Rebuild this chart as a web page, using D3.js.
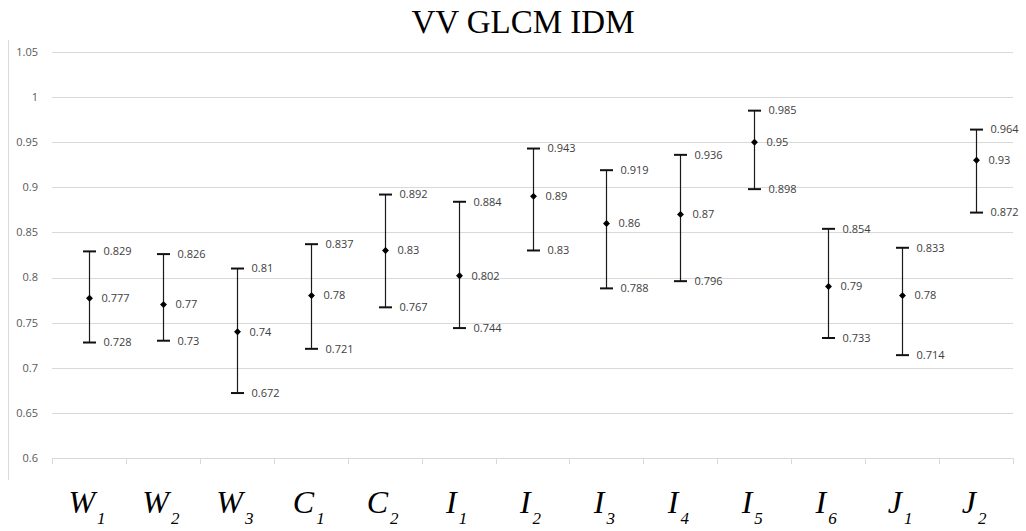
<!DOCTYPE html>
<html>
<head>
<meta charset="utf-8">
<script src="https://cdn.jsdelivr.net/npm/d3@7/dist/d3.min.js"></script>
<style>
  html, body { margin: 0; padding: 0; background: #fff; }
  svg { display: block; }
</style>
</head>
<body>
<svg id="chart" width="1026" height="531"></svg>
<script>
// ---- data ----
const title = "VV GLCM IDM";
const categories = ["W1","W2","W3","C1","C2","I1","I2","I3","I4","I5","I6","J1","J2"];
const highValues = [0.829, 0.826, 0.81, 0.837, 0.892, 0.884, 0.943, 0.919, 0.936, 0.985, 0.854, 0.833, 0.964];
const midValues  = [0.777, 0.77, 0.74, 0.78, 0.83, 0.802, 0.89, 0.86, 0.87, 0.95, 0.79, 0.78, 0.93];
const lowValues  = [0.728, 0.73, 0.672, 0.721, 0.767, 0.744, 0.83, 0.788, 0.796, 0.898, 0.733, 0.714, 0.872];
const yTicks = [0.6, 0.65, 0.7, 0.75, 0.8, 0.85, 0.9, 0.95, 1, 1.05];

// ---- layout ----
const svg = d3.select("#chart");
const plotLeft = 52, plotRight = 1013, plotTop = 52, plotBottom = 458;

const x = d3.scaleBand().domain(categories).range([plotLeft, plotRight]).padding(0);
const y = d3.scaleLinear().domain([0.6, 1.05]).range([plotBottom, plotTop]);

// outer left border line
svg.append("line")
  .attr("x1", 8.5).attr("x2", 8.5).attr("y1", 40).attr("y2", 480)
  .attr("stroke", "#d9d9d9").attr("stroke-width", 1);

// title
svg.append("text")
  .attr("x", 523).attr("y", 33)
  .attr("text-anchor", "middle")
  .style("font-family", "'Liberation Serif', 'Times New Roman', serif")
  .style("font-size", "33px")
  .attr("fill", "#000")
  .text(title);

// gridlines
svg.append("g").selectAll("line").data(yTicks).join("line")
  .attr("x1", plotLeft).attr("x2", plotRight)
  .attr("y1", d => Math.round(y(d)) + 0.5).attr("y2", d => Math.round(y(d)) + 0.5)
  .attr("stroke", "#d9d9d9").attr("stroke-width", 1);

// y axis labels
svg.append("g").selectAll("text").data(yTicks).join("text")
  .attr("x", 38).attr("y", d => y(d))
  .attr("dy", "0.35em")
  .attr("text-anchor", "end")
  .style("font-family", "'Open Sans', 'Liberation Sans', sans-serif")
  .style("font-size", "11px")
  .attr("fill", "#595959")
  .text(d => d3.format("")(d));

// x tick marks at category boundaries
const bounds = categories.map(c => x(c)).concat([plotRight]);
svg.append("g").selectAll("line").data(bounds).join("line")
  .attr("x1", d => Math.round(d) + 0.5).attr("x2", d => Math.round(d) + 0.5)
  .attr("y1", plotBottom).attr("y2", plotBottom + 6)
  .attr("stroke", "#d9d9d9").attr("stroke-width", 1);

// x category labels (letter + subscript)
const xl = svg.append("g").selectAll("text").data(categories).join("text")
  .attr("x", d => x(d) + x.bandwidth() / 2 - 2)
  .attr("y", 513)
  .attr("text-anchor", "middle")
  .style("font-family", "'Liberation Serif', 'Times New Roman', serif")
  .style("font-style", "italic")
  .attr("fill", "#000");
xl.append("tspan").style("font-size", "32px").text(d => d.slice(0, 1));
xl.append("tspan").style("font-size", "17px").attr("dx", 2).attr("dy", 11).text(d => d.slice(1));

// error bars
const rows = categories.map((c, i) => ({ c, hi: highValues[i], mid: midValues[i], lo: lowValues[i] }));
const g = svg.append("g");
const cx = d => Math.round(x(d.c) + x.bandwidth() / 2) + 0.5;

g.selectAll("line.v").data(rows).join("line")
  .attr("class", "v")
  .attr("x1", cx).attr("x2", cx)
  .attr("y1", d => y(d.hi)).attr("y2", d => y(d.lo))
  .attr("stroke", "#1a1a1a").attr("stroke-width", 1.2);

["hi", "lo"].forEach(k => {
  g.selectAll("line.cap-" + k).data(rows).join("line")
    .attr("class", "cap-" + k)
    .attr("x1", d => cx(d) - 6.5).attr("x2", d => cx(d) + 6.5)
    .attr("y1", d => y(d[k])).attr("y2", d => y(d[k]))
    .attr("stroke", "#111").attr("stroke-width", 2);
});

const sym = d3.symbol().type(d3.symbolSquare).size(24);
g.selectAll("path.m").data(rows).join("path")
  .attr("class", "m")
  .attr("d", sym)
  .attr("transform", d => `translate(${cx(d)},${y(d.mid)}) rotate(45)`)
  .attr("fill", "#000");

// data labels
const lab = (k, off) => g.selectAll("text.l-" + k).data(rows).join("text")
  .attr("class", "l-" + k)
  .attr("x", d => cx(d) + off)
  .attr("y", d => y(d[k]))
  .attr("dy", "0.35em")
  .style("font-family", "'Open Sans', 'Liberation Sans', sans-serif")
  .style("font-size", "11px")
  .attr("fill", "#404040")
  .text(d => d3.format("")(d[k]));
lab("hi", 14);
lab("mid", 12);
lab("lo", 14);
</script>
</body>
</html>
